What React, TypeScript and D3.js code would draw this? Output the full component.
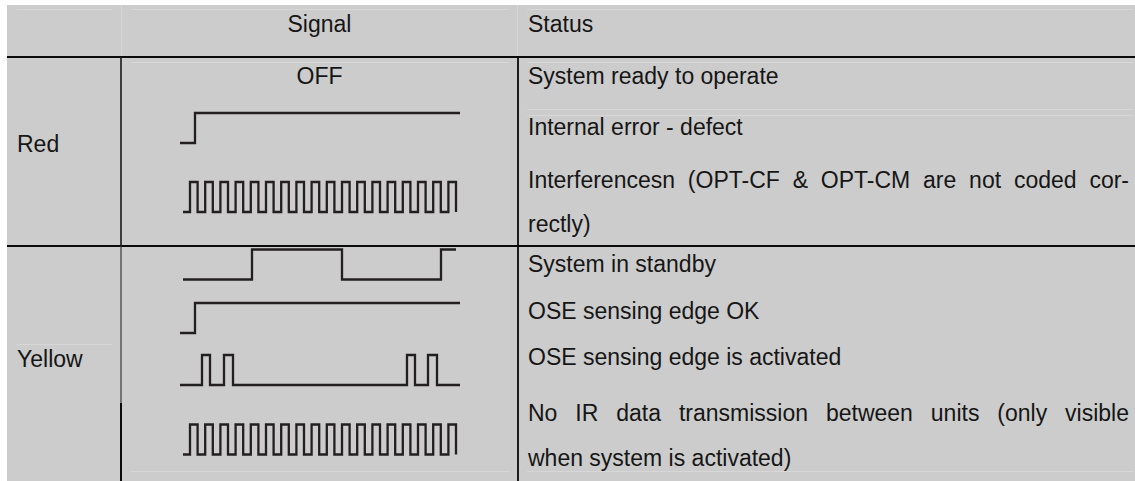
import { useEffect, useRef } from 'react';
import * as d3 from 'd3';

const W = 1135;
const H = 481;

// table text
const headers = ['Signal', 'Status'];
const groups = ['Red', 'Yellow'];
const offLabel = 'OFF';

const redStatus = [
  ['System ready to operate'],
  ['Internal error - defect'],
  ['Interferencesn (OPT-CF & OPT-CM are not coded cor-', 'rectly)'],
];
const yellowStatus = [
  ['System in standby'],
  ['OSE sensing edge OK'],
  ['OSE sensing edge is activated'],
  ['No IR data transmission between units (only visible', 'when system is activated)'],
];

// signal traces, time units 0..280: start, end, initial level, toggle times
const stepOn = { start: 0, end: 280, level: 0, edges: [15] };
const fastBlink = {
  start: 3,
  end: 276,
  level: 0,
  edges: [
    10, 17.6, 25.2, 32.8, 40.4, 48, 55.6, 63.2, 70.8, 78.4, 86, 93.6, 101.2, 108.8, 116.4, 124,
    131.6, 139.2, 146.8, 154.4, 162, 169.6, 177.2, 184.8, 192.4, 200, 207.6, 215.2, 222.8, 230.4,
    238, 245.6, 253.2, 260.8, 268.4, 276,
  ],
};
const slowBlink = { start: 3, end: 276, level: 0, edges: [72, 162, 261] };
const doubleFlash = { start: 0, end: 280, level: 0, edges: [22, 30, 44, 53, 227, 235, 248, 257] };

type Trace = { start: number; end: number; level: number; edges: number[] };

const redSignals: (Trace | null)[] = [null, stepOn, fastBlink];
const yellowSignals: (Trace | null)[] = [slowBlink, stepOn, doubleFlash, fastBlink];

export default function App() {
  const svgRef = useRef<SVGSVGElement>(null);

  useEffect(() => {
    if (!svgRef.current) return;
    const svg = d3.select(svgRef.current);
    svg.selectAll('*').remove();

    const left = 7;
    const top = 5;
    const col1 = 121;
    const col2 = 518;
    const textX = 528;
    const textRight = 1129;
    const headerBottom = 57;
    const groupSplit = 246;

    const x = d3.scaleLinear().domain([0, 280]).range([180, 460]);

    // background
    svg.append('rect')
      .attr('x', left).attr('y', top)
      .attr('width', W - left).attr('height', H - top)
      .attr('fill', '#cccccc');

    // faint cell borders (word-table leftovers)
    const faint = svg.append('g').attr('stroke', '#d7d7d7').attr('stroke-width', 1);
    const hLine = (yy: number, x1: number, x2: number) =>
      faint.append('line').attr('x1', x1).attr('x2', x2).attr('y1', yy).attr('y2', yy);
    hLine(9.5, 17, 112);
    hLine(9.5, 131, 509);
    hLine(9.5, 527, 1133);
    hLine(62.5, 131, 509);
    hLine(62.5, 527, 1133);
    hLine(109.5, 527, 1133);
    hLine(115.5, 527, 1133);
    hLine(344.5, 17, 112);
    hLine(471.5, 131, 509);
    hLine(471.5, 527, 1133);
    [col1 + 0.5, col2 - 0.5].forEach((xx) => {
      faint.append('line').attr('x1', xx).attr('x2', xx).attr('y1', top).attr('y2', headerBottom);
    });

    // table rules
    const rules = svg.append('g').attr('fill', 'none');
    [headerBottom, groupSplit].forEach((yy) => {
      rules.append('line')
        .attr('x1', left).attr('x2', W)
        .attr('y1', yy).attr('y2', yy)
        .attr('stroke', '#0a0a0a')
        .attr('stroke-width', 2);
    });
    const vSeg = (xx: number, y1: number, y2: number, w: number, c: string) =>
      rules.append('line')
        .attr('x1', xx).attr('x2', xx).attr('y1', y1).attr('y2', y2)
        .attr('stroke', c).attr('stroke-width', w);
    vSeg(col1, headerBottom, groupSplit, 1.6, '#1a1a1a');
    vSeg(col1, groupSplit, 403, 1.2, '#3a3a3a');
    vSeg(col1, 403, H, 2, '#0a0a0a');
    vSeg(col2, headerBottom, H, 1.8, '#0a0a0a');

    const txt = svg.append('g')
      .attr('font-family', '"Liberation Sans", Arial, sans-serif')
      .attr('font-size', 23)
      .attr('fill', '#161616');

    // headers
    txt.append('text').attr('x', (col1 + col2) / 2).attr('y', 32)
      .attr('text-anchor', 'middle').text(headers[0]);
    txt.append('text').attr('x', textX).attr('y', 32).text(headers[1]);

    // group labels
    const groupBaselines = [152, 367];
    groups.forEach((g, i) => {
      txt.append('text').attr('x', 17).attr('y', groupBaselines[i]).text(g);
    });

    txt.append('text').attr('x', (col1 + col2) / 2).attr('y', 84)
      .attr('text-anchor', 'middle').text(offLabel);

    // status lines, justified when wrapped
    const drawLine = (s: string, yy: number, justify: boolean) => {
      if (!justify) {
        txt.append('text').attr('x', textX).attr('y', yy).text(s);
        return;
      }
      const words = s.split(' ');
      const nodes = words.map((w) => txt.append('text').attr('y', yy).text(w));
      const widths = nodes.map((n) => (n.node() as SVGTextElement).getComputedTextLength());
      const gap = (textRight - textX - d3.sum(widths)) / (words.length - 1);
      let cx = textX;
      nodes.forEach((n, i) => {
        n.attr('x', cx);
        cx += widths[i] + gap;
      });
    };

    const statusBaselines = [[84], [135], [188, 232], [272], [319], [365], [421, 466]];
    [...redStatus, ...yellowStatus].forEach((lines, i) => {
      lines.forEach((s, j) => drawLine(s, statusBaselines[i][j], j < lines.length - 1));
    });

    // signal traces
    const waveCenters = [0, 128, 197, 264.5, 318, 370, 439.5];
    const amp = 30;
    const waves = svg.append('g')
      .attr('fill', 'none')
      .attr('stroke', '#231f20')
      .attr('stroke-width', 2.3)
      .attr('stroke-linejoin', 'miter');

    [...redSignals, ...yellowSignals].forEach((sig, i) => {
      if (!sig) return;
      const y = d3.scaleLinear().domain([0, 1])
        .range([waveCenters[i] + amp / 2, waveCenters[i] - amp / 2]);
      const pts: [number, number][] = [[sig.start, sig.level]];
      let lvl = sig.level;
      sig.edges.forEach((e) => {
        lvl = 1 - lvl;
        pts.push([e, lvl]);
      });
      pts.push([sig.end, lvl]);
      const line = d3.line<[number, number]>()
        .x((d) => x(d[0]))
        .y((d) => y(d[1]))
        .curve(d3.curveStepAfter);
      waves.append('path').attr('d', line(pts) as string);
    });
  }, []);

  return (
    <svg
      ref={svgRef}
      width={W}
      height={H}
      style={{ position: 'absolute', left: 0, top: 0, background: '#fff' }}
    />
  );
}
